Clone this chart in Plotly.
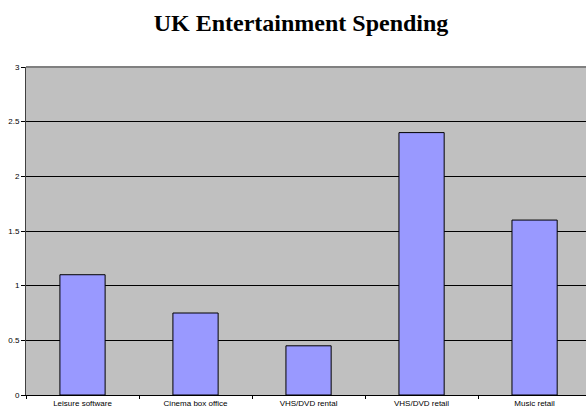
import plotly.graph_objects as go

categories = ["Leisure software", "Cinema box office", "VHS/DVD rental", "VHS/DVD retail", "Music retail"]
values = [1.1, 0.75, 0.45, 2.4, 1.6]
y_ticks = [0, 0.5, 1, 1.5, 2, 2.5, 3]
y_tick_labels = ["0", "0.5", "1", "1.5", "2", "2.5", "3"]

fig = go.Figure()
fig.add_trace(go.Bar(
    x=categories, y=values,
    marker=dict(color="#9999FF", line=dict(color="#000000", width=1)),
    width=0.4,
))

fig.update_layout(
    width=586, height=410,
    margin=dict(l=26, r=0, t=67, b=15),
    paper_bgcolor="white",
    plot_bgcolor="#C0C0C0",
    showlegend=False,
    title=dict(text="<b>UK Entertainment Spending</b>", x=301/586, xanchor="center",
               y=1 - 23/410, yanchor="middle",
               font=dict(family="Liberation Serif", size=24, color="black")),
    bargap=0.6,
)
fig.update_xaxes(
    range=[-0.5, 4.455],
    tickson="boundaries", ticks="outside", ticklen=3, tickcolor="#000000",
    showline=True, linecolor="#000000", linewidth=1,
    showgrid=False,
    tickfont=dict(family="Liberation Sans", size=8, color="black"),
)
fig.update_yaxes(
    range=[0, 3],
    tickvals=y_ticks, ticktext=y_tick_labels,
    ticks="outside", ticklen=4, tickcolor="#000000",
    showline=True, linecolor="#404040", linewidth=1,
    showgrid=True, gridcolor="#000000", gridwidth=1,
    zeroline=False,
    tickfont=dict(family="Liberation Sans", size=8, color="black"),
)
fig.add_shape(type="line", xref="paper", yref="paper", x0=0, x1=1, y0=1, y1=1,
              line=dict(color="#808080", width=2))

fig.write_html("out.html")
